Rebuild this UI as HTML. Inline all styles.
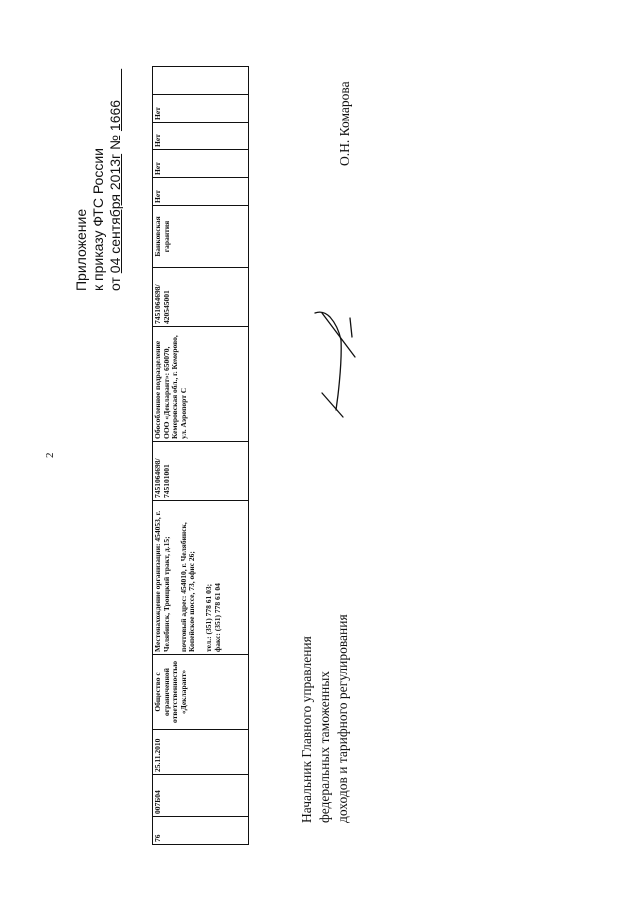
<!DOCTYPE html>
<html><head><meta charset="utf-8"><style>
body{margin:0;width:640px;height:905px;background:#fff;position:relative;overflow:hidden}
.r{position:absolute;transform-origin:0 0;transform:rotate(-90deg);white-space:nowrap;color:#111}
.s{font-family:"Liberation Sans",sans-serif;font-size:14px;line-height:17px}
.t{font-family:"Liberation Serif",serif;font-size:13.5px;line-height:17px}
table{border-collapse:collapse;table-layout:fixed;font-family:"Liberation Serif",serif;font-size:7.5px;line-height:8.5px;font-weight:bold}
td{border:1.3px solid #111;vertical-align:top;padding:1px 2px;overflow:hidden;white-space:normal;color:#111}
</style></head><body>
<div class="r t" style="left:44px;top:458px;font-size:11px;line-height:12px">2</div>
<div class="r s" style="left:73px;top:291px">Приложение</div>
<div class="r s" style="left:90px;top:291px">к приказу ФТС России</div>
<div class="r s" style="left:107px;top:291px">от <u>04 сентября 2013г</u> № <u>1666&nbsp;&nbsp;&nbsp;&nbsp;&nbsp;&nbsp;&nbsp;&nbsp;</u></div>

<div class="r" style="left:152px;top:845px;width:778px;height:97px">
<table style="width:778px;height:97px">
<colgroup><col style="width:28px"><col style="width:42px"><col style="width:45px"><col style="width:75px"><col style="width:154px"><col style="width:59px"><col style="width:115px"><col style="width:59px"><col style="width:62px"><col style="width:28px"><col style="width:28px"><col style="width:27px"><col style="width:28px"><col style="width:28px"></colgroup>
<tr>
<td>76</td><td>007Б04</td><td>25.11.2010</td>
<td style="text-align:center">Общество с ограниченной ответственностью «Декларант»</td>
<td>Местонахождение организации: 454053, г. Челябинск, Троицкий тракт, д.15;<br><br>почтовый адрес: 454010, г. Челябинск, Копейское шоссе, 73, офис 26;<br><br>тел.: (351) 778 61 03;<br>факс: (351) 778 61 04</td>
<td>7451064698/ 745101001</td>
<td>Обособленное подразделение ООО «Декларант»: 650070, Кемеровская обл., г. Кемерово, ул. Аэропорт С</td>
<td>7451064698/ 420545001</td>
<td style="text-align:center">Банковская гарантия</td>
<td>Нет</td><td>Нет</td><td>Нет</td><td>Нет</td><td></td>
</tr></table></div>

<svg style="position:absolute;left:0;top:0" width="640" height="905">
<g fill="none" stroke="#111" stroke-width="1.3" stroke-linecap="round">
<path d="M315,313 Q323,310 330,317 Q338,326 341,340 Q342,360 338,395 L336,410"/>
<path d="M322,313 L355,357"/>
<path d="M322,393 L343,417"/>
<path d="M350,318 L352,337"/>
</g></svg>

<div class="r t" style="left:336px;top:166px">О.Н. Комарова</div>
<div class="r t" style="left:298px;top:823px">Начальник Главного управления</div>
<div class="r t" style="left:316px;top:823px">федеральных таможенных</div>
<div class="r t" style="left:334px;top:823px">доходов и тарифного регулирования</div>
</body></html>
